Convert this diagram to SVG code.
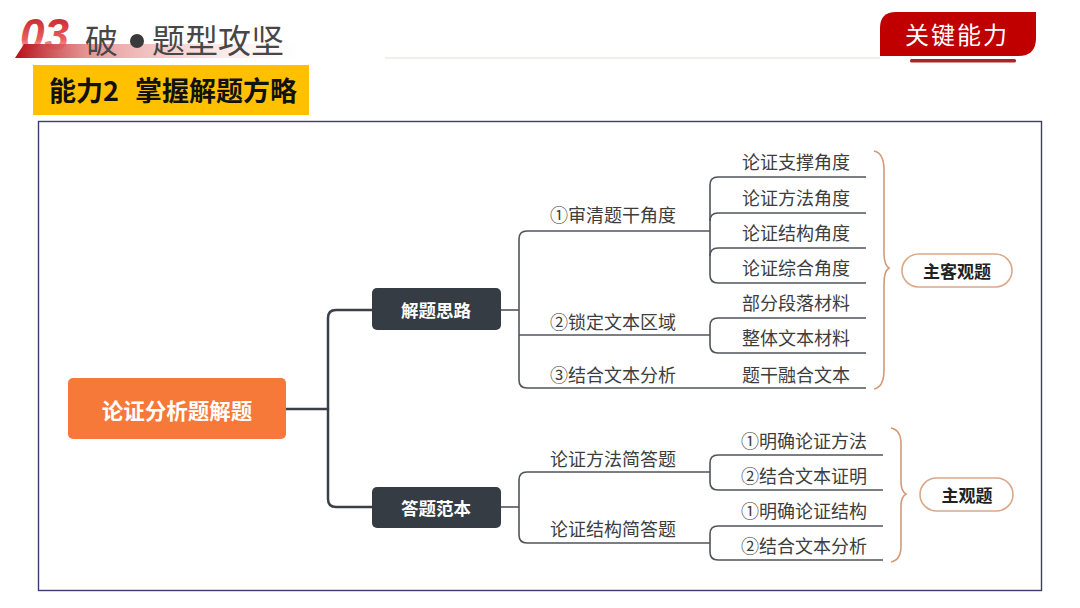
<svg xmlns="http://www.w3.org/2000/svg" width="1080" height="608" viewBox="0 0 1080 608">
<defs>
<linearGradient id="swoosh" x1="0" y1="0" x2="1" y2="0">
<stop offset="0" stop-color="#b51016"/>
<stop offset="0.25" stop-color="#e0787a" stop-opacity="0.8"/>
<stop offset="1" stop-color="#f5d6d0" stop-opacity="0"/>
</linearGradient>
<linearGradient id="num" x1="0" y1="0" x2="0" y2="1">
<stop offset="0" stop-color="#c0141c"/>
<stop offset="0.6" stop-color="#e86060"/>
<stop offset="1" stop-color="#ffffff"/>
</linearGradient>
<style>
.conn{fill:none;stroke:#3b4047;stroke-width:2.5;stroke-linecap:round}
.thin{fill:none;stroke:#50555c;stroke-width:1.6}
.lbl{font-family:"Noto Sans CJK SC","Noto Sans CJK TC",sans-serif;font-size:18px;fill:#3d3d3d}
.brace{fill:none;stroke:#d49a78;stroke-width:1.6}
.pill{fill:#ffffff;stroke:#d9a88a;stroke-width:1.6}
.pilltxt{font-family:"Noto Sans CJK SC",sans-serif;font-size:17px;font-weight:bold;fill:#222;text-anchor:middle;dominant-baseline:central}
.dark{fill:#353c44}
.darktxt{font-family:"Noto Sans CJK SC",sans-serif;font-size:17.5px;font-weight:bold;fill:#ffffff;text-anchor:middle;dominant-baseline:central}
</style>
</defs>
<rect width="1080" height="608" fill="#ffffff"/>

<g id="header">
<text x="20" y="50" font-family="Liberation Sans, sans-serif" font-size="44" font-weight="bold" font-style="italic" fill="url(#num)">03</text>
<polygon points="24,44 300,44 300,58 15,58" fill="url(#swoosh)"/>
<text x="85" y="53" font-family="Noto Sans CJK SC, sans-serif" font-size="33" fill="#474747">破</text>
<circle cx="137" cy="41" r="7" fill="#3a3a3a"/>
<text x="152" y="53" font-family="Noto Sans CJK SC, sans-serif" font-size="33" fill="#474747">题型攻坚</text>
<line x1="385" y1="58" x2="880" y2="58" stroke="#ece8e4" stroke-width="1.5"/>
</g>

<g id="title-box">
<rect x="33" y="65" width="276" height="50" fill="#ffc000"/>
<text y="101" font-family="Noto Sans CJK SC, sans-serif" font-size="27" font-weight="bold" fill="#111"><tspan x="49">能力2</tspan><tspan x="135">掌握解题方略</tspan></text>
</g>

<g id="tab">
<path d="M896,12 H1036 V38 Q1036,56 1018,56 H880 V28 Q880,12 896,12 Z" fill="#c00000"/>
<text x="905" y="44" font-family="Noto Sans CJK SC, sans-serif" font-size="24" fill="#ffffff" letter-spacing="2">关键能力</text>
<rect x="910" y="59" width="106" height="3.5" rx="1.5" fill="#a8262a"/>
</g>

<rect id="frame" x="38.5" y="121.5" width="1003" height="469" fill="none" stroke="#3c3c6e" stroke-width="1.4"/>

<g id="connectors">
<path class="conn" d="M285,409 H328"/>
<path class="conn" d="M372,310 H336 Q328,310 328,318 V499 Q328,507 336,507 H372"/>
<path class="thin" d="M501,310 H519"/>
<path class="thin" d="M527,231 Q519,231 519,239 V380 Q519,388 527,388 H866"/>
<path class="thin" d="M519,335 H710"/>
<path class="thin" d="M527,231 H710"/>
<path class="thin" d="M866,177 H718 Q710,177 710,185 V275 Q710,283 718,283 H866"/>
<path class="thin" d="M866,213 H718 Q710,213 710,221"/>
<path class="thin" d="M866,248 H718 Q710,248 710,256"/>
<path class="thin" d="M866,318 H718 Q710,318 710,326 V345 Q710,353 718,353 H866"/>
<path class="thin" d="M501,507 H519"/>
<path class="thin" d="M710,472 H527 Q519,472 519,480 V535 Q519,543 527,543 H710"/>
<path class="thin" d="M883,455 H718 Q710,455 710,463 V482 Q710,490 718,490 H883"/>
<path class="thin" d="M883,526 H718 Q710,526 710,534 V552 Q710,560 718,560 H883"/>
<path class="brace" d="M874,151 Q884,153 884,170 V252 Q884,265 889,268 Q884,271 884,284 V370 Q884,387 874,389"/>
<path class="brace" d="M891,428 Q901,430 901,444 V482 Q901,491 906,494 Q901,497 901,506 V546 Q901,560 891,562"/>
</g>

<g id="root">
<rect x="68" y="378" width="218" height="61" rx="5" fill="#f7793a"/>
<text x="177" y="409" font-family="Noto Sans CJK SC, sans-serif" font-size="21.5" font-weight="bold" fill="#ffffff" text-anchor="middle" dominant-baseline="central">论证分析题解题</text>
</g>
<g id="n-jieti">
<rect class="dark" x="372" y="288" width="129" height="42" rx="5"/>
<text class="darktxt" x="436" y="309">解题思路</text>
</g>
<g id="n-dati">
<rect class="dark" x="372" y="487" width="129" height="41" rx="5"/>
<text class="darktxt" x="436" y="507">答题范本</text>
</g>

<g id="b1"><text class="lbl" x="550" y="222">①审清题干角度</text></g>
<g id="b2"><text class="lbl" x="550" y="329">②锁定文本区域</text></g>
<g id="b3"><text class="lbl" x="550" y="382">③结合文本分析</text></g>
<g id="s1"><text class="lbl" x="742" y="169">论证支撑角度</text></g>
<g id="s2"><text class="lbl" x="742" y="205">论证方法角度</text></g>
<g id="s3"><text class="lbl" x="742" y="240">论证结构角度</text></g>
<g id="s4"><text class="lbl" x="742" y="275">论证综合角度</text></g>
<g id="s5"><text class="lbl" x="742" y="310">部分段落材料</text></g>
<g id="s6"><text class="lbl" x="742" y="345">整体文本材料</text></g>
<g id="s7"><text class="lbl" x="742" y="382">题干融合文本</text></g>

<g id="b4"><text class="lbl" x="550" y="466">论证方法简答题</text></g>
<g id="b5"><text class="lbl" x="550" y="536">论证结构简答题</text></g>
<g id="s8"><text class="lbl" x="741" y="448">①明确论证方法</text></g>
<g id="s9"><text class="lbl" x="741" y="483">②结合文本证明</text></g>
<g id="s10"><text class="lbl" x="741" y="518">①明确论证结构</text></g>
<g id="s11"><text class="lbl" x="741" y="553">②结合文本分析</text></g>

<g id="p1">
<rect class="pill" x="902" y="254" width="110" height="33" rx="16.5"/>
<text class="pilltxt" x="957" y="270">主客观题</text>
</g>
<g id="p2">
<rect class="pill" x="920" y="478" width="93" height="33" rx="16.5"/>
<text class="pilltxt" x="967" y="494">主观题</text>
</g>
</svg>
